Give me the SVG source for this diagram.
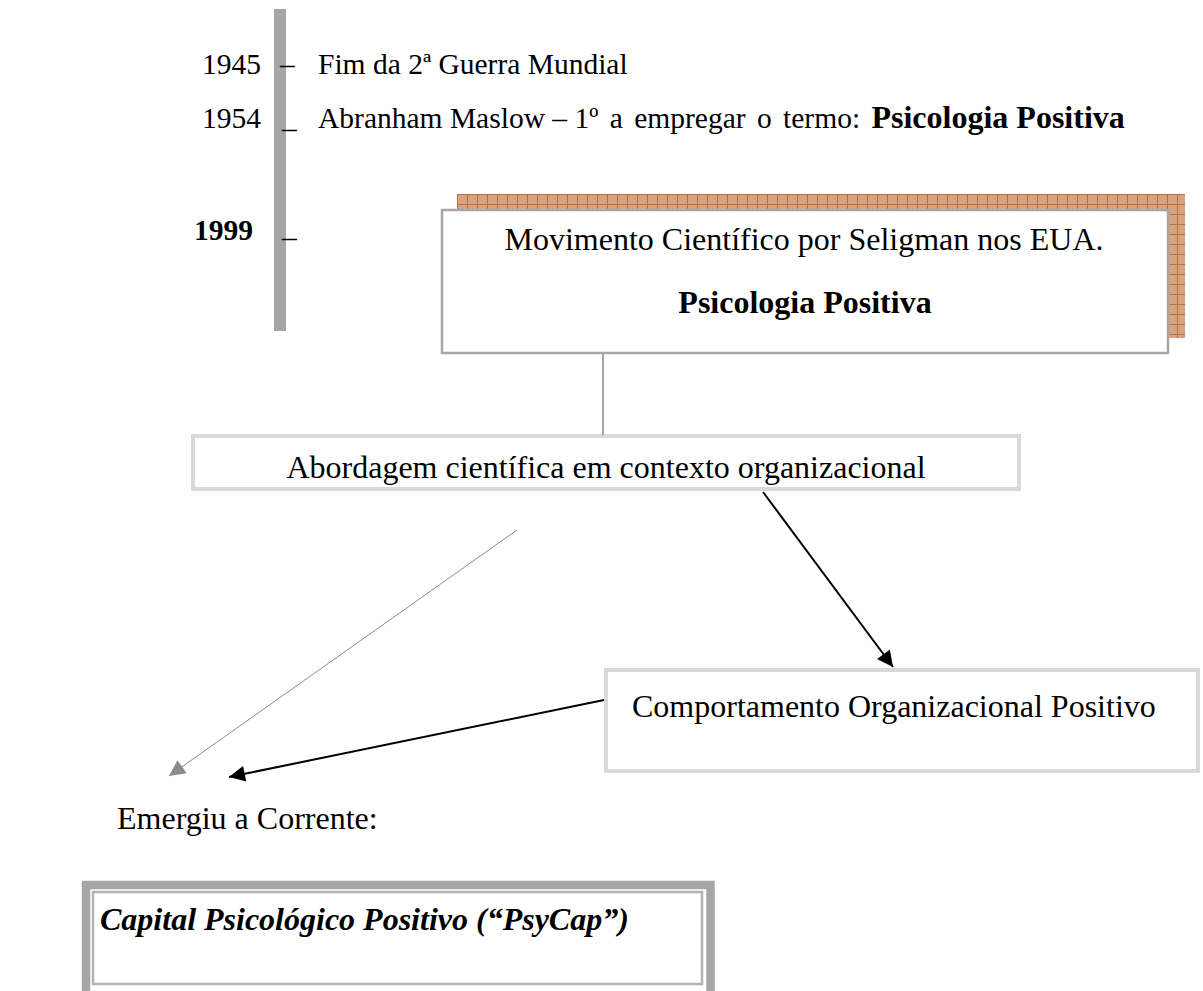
<svg xmlns="http://www.w3.org/2000/svg" width="1203" height="991" viewBox="0 0 1203 991">
<style>
text{font-family:"Liberation Serif","Times New Roman",serif;font-size:32px;fill:#000}
.t{font-size:29.5px}
.b{font-weight:bold}
.bi{font-weight:bold;font-style:italic}
.dk{fill:#fff;stroke:#a6a6a6;stroke-width:2.5}
.lt{fill:#fff;stroke:#d9d9d9;stroke-width:4}
</style>
<defs>
<pattern id="tile" width="10" height="10" patternUnits="userSpaceOnUse" x="457" y="194">
<rect width="10" height="10" fill="#d8a480"/>
<path d="M0 0.5H10M0.5 0V10" stroke="#b5713a" stroke-width="1"/>
</pattern>
<marker id="ab" viewBox="0 0 10 10" refX="10" refY="5" markerWidth="17" markerHeight="16" markerUnits="userSpaceOnUse" orient="auto">
<path d="M0 0L10 5L0 10z" fill="#000"/>
</marker>
<marker id="ag" viewBox="0 0 10 10" refX="10" refY="5" markerWidth="17" markerHeight="16" markerUnits="userSpaceOnUse" orient="auto">
<path d="M0 0L10 5L0 10z" fill="#8c8c8c"/>
</marker>
</defs>
<rect width="1203" height="991" fill="#fff"/>

<g id="timeline">
<rect x="274" y="9" width="12" height="322" fill="#a6a6a6"/>
<text class="t" x="261" y="74" text-anchor="end">1945</text>
<text class="t" x="280" y="74">–</text>
<text class="t" x="318" y="74">Fim da 2ª Guerra Mundial</text>
<text class="t" x="261" y="128" text-anchor="end">1954</text>
<text class="t" x="282" y="128">_</text>
<text class="t" x="318" y="128">Abranham Maslow – <tspan font-size="29.5" word-spacing="4">1º a empregar o termo: </tspan><tspan class="b" font-size="32">Psicologia Positiva</tspan></text>
<text class="t b" x="253" y="240" text-anchor="end" font-size="30.5">1999</text>
<text class="t" x="282" y="237">_</text>
</g>

<g id="node-movimento">
<rect x="457" y="194" width="728" height="144" fill="url(#tile)"/>
<rect x="442" y="210" width="726" height="143" class="dk"/>
<text x="804" y="250" text-anchor="middle">Movimento Científico por Seligman nos EUA.</text>
<text x="805" y="313" text-anchor="middle" class="b">Psicologia Positiva</text>
</g>

<g id="node-abordagem">
<rect x="193" y="436" width="826" height="53" class="lt"/>
<text x="606" y="478" text-anchor="middle">Abordagem científica em contexto organizacional</text>
</g>

<g id="node-comportamento">
<rect x="606" y="670" width="592" height="101" class="lt"/>
<text x="632" y="717">Comportamento Organizacional Positivo</text>
</g>

<g id="node-emergiu">
<text x="117" y="829" font-size="30.5">Emergiu a Corrente:</text>
</g>

<g id="node-psycap">
<rect x="86" y="885" width="624.5" height="120" fill="#fff" stroke="#a6a6a6" stroke-width="8.5"/>
<rect x="93" y="892" width="609" height="92" fill="none" stroke="#b3b3b3" stroke-width="2.5"/>
<text x="100" y="930" class="bi">Capital Psicológico Positivo (“PsyCap”)</text>
</g>

<g id="connectors">
<line x1="603" y1="353" x2="603" y2="435" stroke="#a6a6a6" stroke-width="2"/>
<line x1="763" y1="492" x2="893" y2="667" stroke="#000" stroke-width="2" marker-end="url(#ab)"/>
<line x1="604" y1="700" x2="229" y2="777" stroke="#000" stroke-width="2" marker-end="url(#ab)"/>
<line x1="517" y1="530" x2="169" y2="776" stroke="#8c8c8c" stroke-width="1" marker-end="url(#ag)"/>
</g>
</svg>
